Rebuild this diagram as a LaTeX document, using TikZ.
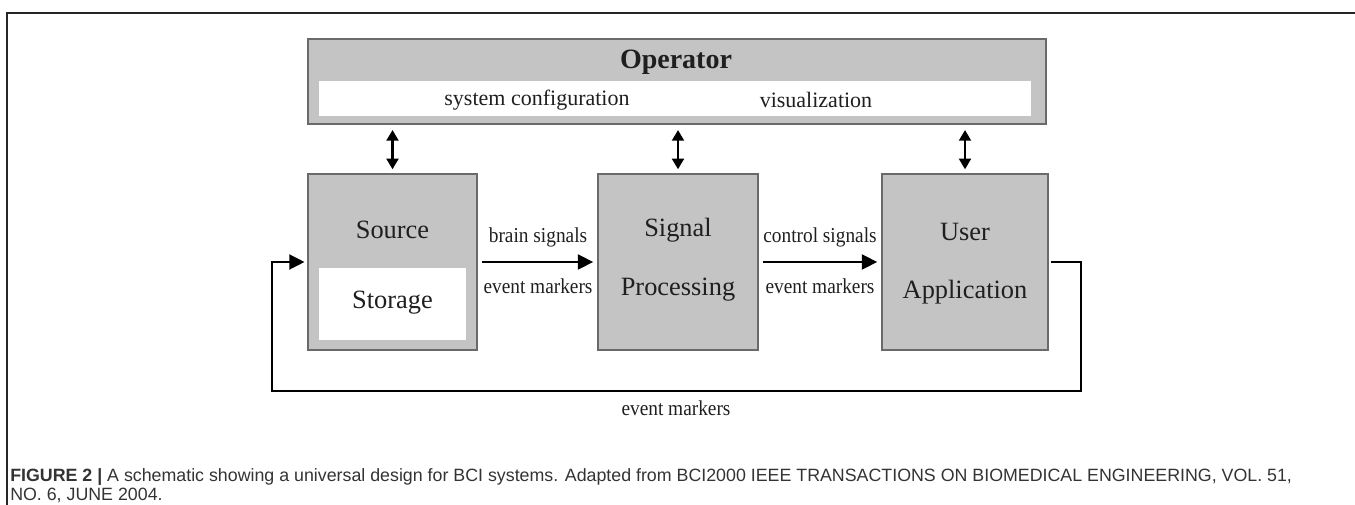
\documentclass[tikz,border=0pt]{standalone}
\usepackage{fontspec}
\setmainfont{Liberation Serif}
\newfontfamily\capfont{Liberation Sans}
\usetikzlibrary{arrows.meta}
\definecolor{boxgray}{HTML}{C4C4C4}
\definecolor{edgegray}{HTML}{6A6A6A}
\begin{document}
\begin{tikzpicture}[x=0.75pt,y=-0.75pt,
  block/.style={draw=edgegray, line width=1.1pt, fill=boxgray, inner sep=0pt},
  whitebox/.style={fill=white, draw=none, inner sep=0pt},
  bigtext/.style={font=\fontsize{19.8pt}{22pt}\selectfont, inner sep=0pt, text=black!88},
  midtext/.style={font=\fontsize{16.5pt}{19pt}\selectfont, inner sep=0pt, text=black!88},
  smalltext/.style={font=\fontsize{14.5pt}{17pt}\selectfont, inner sep=0pt, text=black!88, yscale=1.1},
  flow/.style={line width=2.2pt, -{Triangle[length=11.5pt,width=11pt]}},
  dbl/.style={line width=1.6pt, {Triangle[length=8pt,width=9pt]}-{Triangle[length=8pt,width=9pt]}},
  captext/.style={font=\capfont\fontsize{13.35pt}{15pt}\selectfont, inner sep=0pt, anchor=west, text=black!80}
]
\useasboundingbox (0,0) rectangle (1355,505);
% frame
\draw[line width=1.4pt, black!85] (7,505) -- (7,13) -- (1355,13);
% operator
\node[block, minimum width=553.5pt, minimum height=63.75pt] (op) at (677,81.5) {};
\node[whitebox, minimum width=534pt, minimum height=26.25pt] (strip) at (675,98.5) {};
\node[font=\bfseries\fontsize{21pt}{24pt}\selectfont, inner sep=0pt, text=black!88] (optitle) at (676,62) {Operator};
\node[midtext] (syscfg) at (537,100) {system configuration};
\node[midtext] (vis) at (816,100) {visualization};
% blocks
\node[block, minimum width=126.75pt, minimum height=132pt] (src) at (392.5,262) {};
\node[whitebox, minimum width=110.25pt, minimum height=54pt] (stor) at (392.5,304) {};
\node[bigtext] (srclbl) at (392.5,230) {Source};
\node[bigtext] (storlbl) at (392.5,303) {Storage};
\node[block, minimum width=120pt, minimum height=132pt] (sig) at (678,262) {};
\node[bigtext] (siglbl1) at (678,230) {Signal};
\node[bigtext] (siglbl2) at (678,290) {Processing};
\node[block, minimum width=124.5pt, minimum height=132pt] (usr) at (965,262) {};
\node[bigtext] (usrlbl1) at (965,232) {User};
\node[bigtext] (usrlbl2) at (965,292) {Application};
% operator links
\draw[dbl, shorten <=3pt, shorten >=4pt] (src.north) -- (src.north |- op.south);
\draw[dbl, shorten <=3pt, shorten >=4pt] (sig.north) -- (sig.north |- op.south);
\draw[dbl, shorten <=3pt, shorten >=4pt] (usr.north) -- (usr.north |- op.south);
% flows
\draw[flow, shorten <=3pt, shorten >=3pt] (src.east) -- (sig.west);
\node[smalltext] (bs) at (538,237) {brain signals};
\node[smalltext] (em1) at (538,286) {event markers};
\draw[flow, shorten <=3pt, shorten >=3pt] (sig.east) -- (usr.west);
\node[smalltext] (cs) at (820,237) {control signals};
\node[smalltext] (em2) at (820,286) {event markers};
% feedback
\coordinate (fbR) at (1081,391);
\coordinate (fbL) at (272,391);
\draw[flow, shorten <=1.5pt, shorten >=2pt] (usr.east) -| (fbR) -- (fbL) |- (src.west);
\node[smalltext] (em3) at (676,408) {event markers};
% caption
\node[captext] (cap1) at (10,477) {\textbf{FIGURE 2 |} A schematic showing a universal design for BCI systems. Adapted from BCI2000 IEEE TRANSACTIONS ON BIOMEDICAL ENGINEERING, VOL. 51,};
\node[captext] (cap2) at (10,495) {NO. 6, JUNE 2004.};
\end{tikzpicture}
\end{document}
